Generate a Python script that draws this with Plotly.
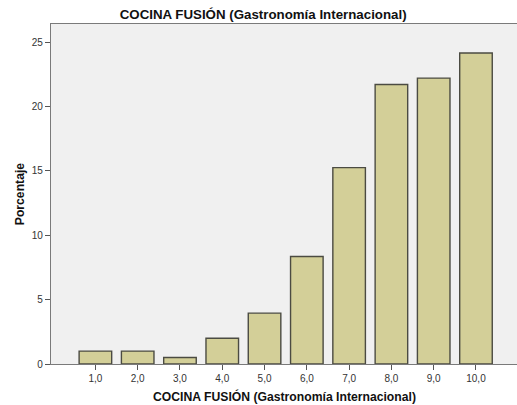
import plotly.graph_objects as go

categories = [1, 2, 3, 4, 5, 6, 7, 8, 9, 10]
tick_labels = ["1,0", "2,0", "3,0", "4,0", "5,0", "6,0", "7,0", "8,0", "9,0", "10,0"]
porcentaje = [1.0, 1.0, 0.5, 2.0, 3.95, 8.35, 15.25, 21.7, 22.2, 24.15]
y_ticks = [0, 5, 10, 15, 20, 25]

fig = go.Figure()
fig.add_trace(go.Bar(
    x=categories, y=porcentaje, width=0.77,
    marker=dict(color="#D3CF98", line=dict(color="#4B4B42", width=1.4)),
))

font = "Liberation Sans, Arial, sans-serif"
fig.update_layout(
    width=517, height=405,
    margin=dict(l=51, r=0, t=24, b=41),
    paper_bgcolor="white", plot_bgcolor="#F0F0F0",
    showlegend=False,
    font=dict(family=font, size=10, color="#333333"),
    title=dict(text="<b>COCINA FUSIÓN (Gastronomía Internacional)</b>",
               x=0.509, xanchor="center", y=0.965, yanchor="middle",
               font=dict(family=font, size=13.3, color="#111111")),
    annotations=[
        dict(text="<b>COCINA FUSIÓN (Gastronomía Internacional)</b>",
             xref="paper", yref="paper", x=0.5, y=-0.097,
             xanchor="center", yanchor="middle", showarrow=False,
             font=dict(family=font, size=12.2, color="#111111")),
        dict(text="<b>Porcentaje</b>", textangle=-90,
             xref="paper", yref="paper", x=-0.066, y=0.5,
             xanchor="center", yanchor="middle", showarrow=False,
             font=dict(family=font, size=12.2, color="#111111")),
    ],
)
fig.update_xaxes(
    range=[-0.05, 10.97], tickvals=categories, ticktext=tick_labels,
    showgrid=False, zeroline=False, automargin=False,
    showline=True, linecolor="#7A7A7A", linewidth=1.2, mirror=True,
    ticks="outside", ticklen=5, tickcolor="#555555",
    tickfont=dict(size=10, color="#333333"),
)
fig.update_yaxes(
    range=[0, 26.4], tickvals=y_ticks, ticktext=[str(v) for v in y_ticks],
    showgrid=False, zeroline=False, automargin=False,
    showline=True, linecolor="#7A7A7A", linewidth=1.2,
    ticks="outside", ticklen=5, tickcolor="#555555",
    tickfont=dict(size=10, color="#333333"),
)

fig.write_html("out.html", config={"displayModeBar": False},
               post_script="document.body.style.margin='0';")
